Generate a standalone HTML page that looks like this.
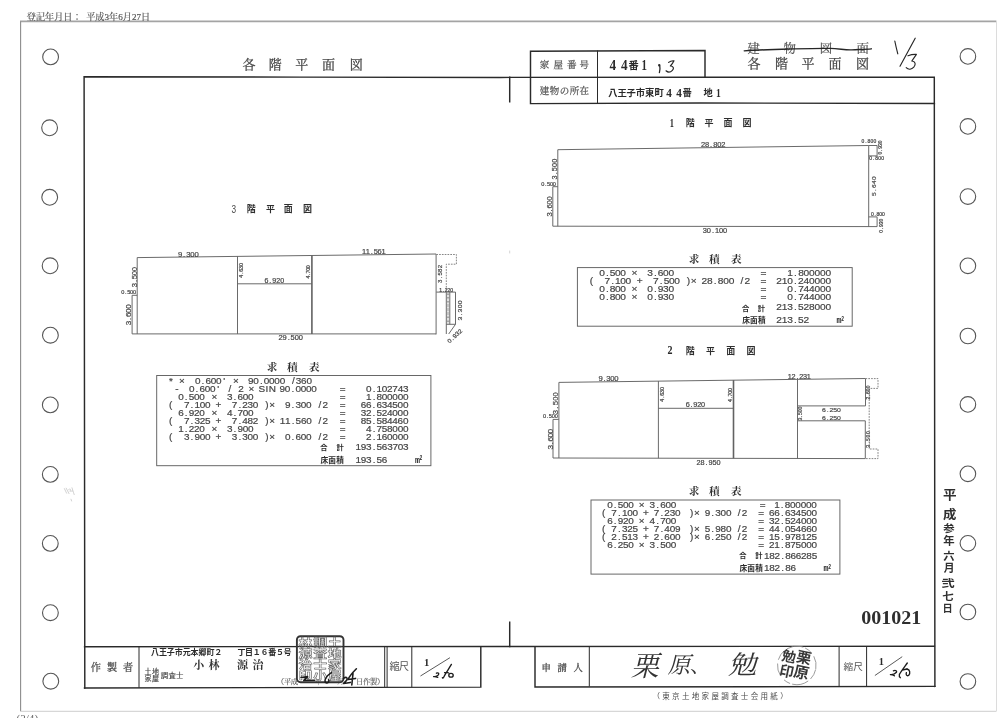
<!DOCTYPE html>
<html lang="ja"><head><meta charset="utf-8"><title>各階平面図</title>
<style>html,body{margin:0;padding:0;background:#fff}body{width:1000px;height:718px;overflow:hidden;font-family:"Liberation Sans",sans-serif}svg{display:block;filter:blur(0.32px)}</style>
</head><body>
<svg width="1000" height="718" viewBox="0 0 1000 718">
<line x1="20" y1="21.4" x2="996.4" y2="21.4" stroke="#a4a4a4" stroke-width="1.6"/>
<line x1="20.6" y1="21.6" x2="20.6" y2="711.2" stroke="#8c8c8c" stroke-width="1.1"/>
<line x1="20.4" y1="711.3" x2="996.4" y2="711.3" stroke="#cdcdcd" stroke-width="1.0"/>
<line x1="996.5" y1="21.6" x2="996.5" y2="711.3" stroke="#dcdcdc" stroke-width="1.0"/>
<text xml:space="preserve" x="26.8 35.94 45.08 54.22 63.36 72.5 81.64 86.21 95.36 104.5 109.07 118.21 122.78 131.92 136.49 141.06" y="19.5" font-family="'Liberation Serif','Noto Serif CJK SC','Noto Sans CJK JP',serif" font-size="9.1" fill="#555" stroke="#555" stroke-width="0.2">登記年月日： 平成3年6月27日</text>
<text x="16.6" y="722.3" font-family="'Liberation Serif', serif" font-size="10" fill="#666" text-anchor="start" textLength="21.50" lengthAdjust="spacingAndGlyphs" xml:space="preserve">(2/4)</text>
<line x1="509.7" y1="250.6" x2="509.7" y2="253.4" stroke="#c8c8c8" stroke-width="0.8"/>
<g fill="none" stroke="#555" stroke-width="1.1">
<circle cx="50.6" cy="56.9" r="7.9"/>
<circle cx="49.6" cy="127.8" r="7.9"/>
<circle cx="49.7" cy="197.3" r="7.9"/>
<circle cx="50.1" cy="265.8" r="7.9"/>
<circle cx="50.4" cy="335.2" r="7.9"/>
<circle cx="50.3" cy="404.9" r="7.9"/>
<circle cx="50.3" cy="474.4" r="7.9"/>
<circle cx="50.3" cy="543.4" r="7.9"/>
<circle cx="50.4" cy="612.7" r="7.9"/>
<circle cx="50.8" cy="681.2" r="7.9"/>
<circle cx="967.9" cy="56.4" r="7.8"/>
<circle cx="967.9" cy="126.4" r="7.8"/>
<circle cx="967.9" cy="196.6" r="7.8"/>
<circle cx="967.9" cy="265.8" r="7.8"/>
<circle cx="967.9" cy="336.0" r="7.8"/>
<circle cx="967.9" cy="404.4" r="7.8"/>
<circle cx="967.9" cy="473.8" r="7.8"/>
<circle cx="967.9" cy="543.3" r="7.8"/>
<circle cx="967.9" cy="612.0" r="7.8"/>
<circle cx="967.9" cy="681.5" r="7.8"/>
</g>
<g stroke="#2a2a2a" stroke-width="1.45" fill="none" stroke-linecap="square">
<path d="M84.8 688.0L84.1 76.8L300 77.1L500 77.4L705 77.2L934.3 77.3L934.9 686.4"/>
<path d="M84.6 646.7L500 646.5L934.4 646.3"/>
<path d="M84.5 688.0L480.8 687.1V646.6"/>
<path d="M535 646.6V687.0L934.9 686.4"/>
<path d="M509.7 77.3V101.8M509.7 622.3V646.6"/>
<path d="M705 77.2V50.6L530.5 51.3V103.6L700 103.0L934.4 103.4"/>
</g>
<g stroke="#2a2a2a" stroke-width="1.0" fill="none">
<path d="M597.5 50.5V103.6"/>
<path d="M139 646.6V687.8M384.7 646.6V687.3M387.1 646.6V687.3M411.8 646.6V687.2"/>
<path d="M589.3 646.6V686.5M839.1 646.6V686.5M866.6 646.6V686.5"/>
</g>
<text x="242.6 268.8 295.2 321.9 349.8" y="68.8" font-family="'Liberation Serif','Noto Serif CJK SC','Noto Sans CJK JP',serif" font-size="13" fill="#444" stroke="#444" stroke-width="0.25">各階平面図</text>
<text x="747.5 774.9 801.5 828.5 855.9" y="68.3" font-family="'Liberation Serif','Noto Serif CJK SC','Noto Sans CJK JP',serif" font-size="13" fill="#444" stroke="#444" stroke-width="0.25">各階平面図</text>
<text x="747.4 783.6 819.7 856.6" y="52.8" font-family="'Liberation Serif','Noto Serif CJK SC','Noto Sans CJK JP',serif" font-size="12.4" fill="#555" stroke="#555" stroke-width="0.2">建物図面</text>
<text x="539.8 553.6 567.0 579.6" y="67.8" font-family="'Liberation Serif','Noto Serif CJK SC','Noto Sans CJK JP',serif" font-size="9.5" fill="#555" stroke="#555" stroke-width="0.25">家屋番号</text>
<text x="539.8 549.75 559.7 569.65 579.6" y="94.2" font-family="'Liberation Serif','Noto Serif CJK SC','Noto Sans CJK JP',serif" font-size="9.5" fill="#555" stroke="#555" stroke-width="0.25">建物の所在</text>
<text x="90.8 106.9 122.9" y="671.2" font-family="'Liberation Serif','Noto Serif CJK SC','Noto Sans CJK JP',serif" font-size="10.2" fill="#4a4a4a" stroke="#4a4a4a" stroke-width="0.25">作製者</text>
<text x="541.6 557.6 573.6" y="670.5" font-family="'Liberation Serif','Noto Serif CJK SC','Noto Sans CJK JP',serif" font-size="9.4" fill="#444" stroke="#444" stroke-width="0.25">申請人</text>
<text x="389.6 399.1" y="669.8" font-family="'Liberation Sans','Noto Sans CJK JP',sans-serif" font-size="10" fill="#555">縮尺</text>
<text x="843.6 853.2" y="670.4" font-family="'Liberation Sans','Noto Sans CJK JP',sans-serif" font-size="9.6" fill="#555">縮尺</text>
<text x="193.2 208.4" y="668.7" font-family="'Liberation Serif','Noto Serif CJK SC','Noto Sans CJK JP',serif" font-size="11" font-weight="bold" fill="#333">小林</text>
<text x="237.0 252.6" y="668.7" font-family="'Liberation Serif','Noto Serif CJK SC','Noto Sans CJK JP',serif" font-size="11" font-weight="bold" fill="#333">源治</text>
<text x="609.6" y="70.0" font-family="'Liberation Serif', serif" font-size="13.6" font-weight="bold" fill="#2a2a2a" text-anchor="start" textLength="6.60" lengthAdjust="spacingAndGlyphs" xml:space="preserve">4</text>
<text x="621.0" y="70.0" font-family="'Liberation Serif', serif" font-size="13.6" font-weight="bold" fill="#2a2a2a" text-anchor="start" textLength="6.60" lengthAdjust="spacingAndGlyphs" xml:space="preserve">4</text>
<text x="628.6" y="69.0" font-family="'Liberation Sans','Noto Sans CJK JP',sans-serif" font-size="10.2" font-weight="bold" fill="#2a2a2a">番</text>
<text x="641.6" y="70.0" font-family="'Liberation Serif', serif" font-size="13.6" font-weight="bold" fill="#2a2a2a" text-anchor="start" textLength="5.40" lengthAdjust="spacingAndGlyphs" xml:space="preserve">1</text>
<text x="608.3 617.6 626.6 635.8 645.1 654.4" y="96.2" font-family="'Liberation Sans','Noto Sans CJK JP',sans-serif" font-size="9.3" font-weight="bold" fill="#2a2a2a">八王子市東町</text>
<text x="666.2" y="97.0" font-family="'Liberation Serif', serif" font-size="11.6" font-weight="bold" fill="#2a2a2a" text-anchor="start" textLength="5.60" lengthAdjust="spacingAndGlyphs" xml:space="preserve">4</text>
<text x="676.2" y="97.0" font-family="'Liberation Serif', serif" font-size="11.6" font-weight="bold" fill="#2a2a2a" text-anchor="start" textLength="5.60" lengthAdjust="spacingAndGlyphs" xml:space="preserve">4</text>
<text x="682.6" y="96.2" font-family="'Liberation Sans','Noto Sans CJK JP',sans-serif" font-size="9.3" font-weight="bold" fill="#2a2a2a">番</text>
<text x="703.6" y="96.2" font-family="'Liberation Sans','Noto Sans CJK JP',sans-serif" font-size="9.3" font-weight="bold" fill="#2a2a2a">地</text>
<text x="716.0" y="97.0" font-family="'Liberation Serif', serif" font-size="11.6" font-weight="bold" fill="#2a2a2a" text-anchor="start" textLength="4.80" lengthAdjust="spacingAndGlyphs" xml:space="preserve">1</text>
<text x="231.4" y="212.85000000000002" font-family="'Liberation Sans', sans-serif" font-size="11.6" fill="#4a4a4a" text-anchor="start" textLength="4.60" lengthAdjust="spacingAndGlyphs" xml:space="preserve">3</text>
<text x="246.8 266.0 283.8 302.9" y="212.1" font-family="'Liberation Sans','Noto Sans CJK JP',sans-serif" font-size="9" font-weight="bold" fill="#2e2e2e">階平面図</text>
<text x="669.8" y="126.55" font-family="'Liberation Serif', serif" font-size="12.0" font-weight="bold" fill="#2a2a2a" text-anchor="start" textLength="4.20" lengthAdjust="spacingAndGlyphs" xml:space="preserve">1</text>
<text x="685.8 704.6 723.6 742.4" y="125.8" font-family="'Liberation Sans','Noto Sans CJK JP',sans-serif" font-size="9" font-weight="bold" fill="#2e2e2e">階平面図</text>
<text x="667.6" y="354.35" font-family="'Liberation Serif', serif" font-size="12.0" font-weight="bold" fill="#2a2a2a" text-anchor="start" textLength="5.00" lengthAdjust="spacingAndGlyphs" xml:space="preserve">2</text>
<text x="685.8 705.9 726.3 746.6" y="353.6" font-family="'Liberation Sans','Noto Sans CJK JP',sans-serif" font-size="9" font-weight="bold" fill="#2e2e2e">階平面図</text>
<g stroke="#626262" stroke-width="0.95" fill="none">
<path d="M137.2 333.9V257.6L436.1 254.0V334.4"/>
<path d="M132.1 295.3H137.2M132.1 295.3V333.9H436.1"/>
<path d="M237.5 256.4V333.9"/>
<path d="M311.9 255.5V333.9" stroke-width="1.6"/>
<path d="M237.5 283.8H311.9"/>
<path d="M436.3 292.1H455.5V324.3H446.3M446.3 292.1V334M449.8 292.1V324.3"/>
<path d="M455.5 324.3L448.7 334"/>
<path d="M436.3 254.5H456.4V264.2H446.3V292.1" stroke="#808080" stroke-dasharray="1.7 1.1"/>
<path d="M448.05 293V324" stroke-width="3.0" stroke="#8a8a8a" stroke-dasharray="0.6 0.75"/>
</g>
<g transform="translate(178.0 256.5)"><text transform="scale(1.12 1)" x="1.84 5.52 9.20 12.87 16.55" y="0" font-family="'Liberation Sans', sans-serif" font-size="6.88" fill="#444" stroke="#4a4a4a" stroke-width="0.2" text-anchor="middle">9.300</text></g>
<g transform="translate(362.0 254.3)"><text transform="scale(1.12 1)" x="1.76 5.27 8.78 12.29 15.80 19.32" y="0" font-family="'Liberation Sans', sans-serif" font-size="6.70" fill="#444" stroke="#4a4a4a" stroke-width="0.2" text-anchor="middle">11.561</text></g>
<g transform="translate(264.4 283.1)"><text transform="scale(1.12 1)" x="1.77 5.30 8.84 12.38 15.91" y="0" font-family="'Liberation Sans', sans-serif" font-size="6.32" fill="#444" stroke="#4a4a4a" stroke-width="0.2" text-anchor="middle">6.920</text></g>
<g transform="translate(278.6 339.9)"><text transform="scale(1.12 1)" x="1.80 5.40 9.00 12.60 16.21 19.81" y="0" font-family="'Liberation Sans', sans-serif" font-size="6.70" fill="#444" stroke="#4a4a4a" stroke-width="0.2" text-anchor="middle">29.500</text></g>
<g transform="translate(136.6 287.0) rotate(-90)"><text transform="scale(1.12 1)" x="1.79 5.36 8.93 12.50 16.07" y="0" font-family="'Liberation Sans', sans-serif" font-size="6.88" fill="#444" stroke="#4a4a4a" stroke-width="0.2" text-anchor="middle">3.500</text></g>
<g transform="translate(121.4 293.9)"><text transform="scale(1.12 1)" x="1.30 3.91 6.52 9.12 11.73" y="0" font-family="'Liberation Sans', sans-serif" font-size="5.02" fill="#444" stroke="#4a4a4a" stroke-width="0.2" text-anchor="middle">0.500</text></g>
<g transform="translate(131.2 325.2) rotate(-90)"><text transform="scale(1.12 1)" x="1.86 5.57 9.29 13.00 16.71" y="0" font-family="'Liberation Sans', sans-serif" font-size="7.25" fill="#444" stroke="#4a4a4a" stroke-width="0.2" text-anchor="middle">3.600</text></g>
<g transform="translate(242.8 277.6) rotate(-90)"><text transform="scale(1.12 1)" x="1.30 3.91 6.52 9.13 11.73" y="0" font-family="'Liberation Sans', sans-serif" font-size="4.84" fill="#444" stroke="#4a4a4a" stroke-width="0.2" text-anchor="middle">4.630</text></g>
<g transform="translate(310.4 278.4) rotate(-90)"><text transform="scale(1.12 1)" x="1.16 3.48 5.80 8.12 10.45" y="0" font-family="'Liberation Sans', sans-serif" font-size="4.84" fill="#444" stroke="#4a4a4a" stroke-width="0.2" text-anchor="middle">4.700</text></g>
<g transform="translate(441.8 283.2) rotate(-90)"><text transform="scale(1.12 1)" x="1.66 4.98 8.30 11.62 14.95" y="0" font-family="'Liberation Sans', sans-serif" font-size="5.39" fill="#444" stroke="#4a4a4a" stroke-width="0.2" text-anchor="middle">3.582</text></g>
<g transform="translate(439.4 291.5)"><text transform="scale(1.12 1)" x="1.21 3.64 6.07 8.50 10.93" y="0" font-family="'Liberation Sans', sans-serif" font-size="4.65" fill="#444" stroke="#4a4a4a" stroke-width="0.2" text-anchor="middle">1.220</text></g>
<g transform="translate(461.8 320.6) rotate(-90)"><text transform="scale(1.12 1)" x="1.80 5.41 9.02 12.63 16.23" y="0" font-family="'Liberation Sans', sans-serif" font-size="6.14" fill="#444" stroke="#4a4a4a" stroke-width="0.2" text-anchor="middle">3.300</text></g>
<g transform="translate(449.4 343.4) rotate(-42)"><text transform="scale(1.12 1)" x="1.59 4.77 7.95 11.12 14.30" y="0" font-family="'Liberation Sans', sans-serif" font-size="5.77" fill="#444" stroke="#4a4a4a" stroke-width="0.2" text-anchor="middle">0.932</text></g>
<g stroke="#626262" stroke-width="0.95" fill="none">
<path d="M557.8 226.2V149.7L868.7 145.5V226.6"/>
<path d="M552.8 186.7H557.8M552.8 186.7V226.2L877.1 226.6"/>
<path d="M868.7 145.5H877.1V155.9H868.7"/>
<path d="M868.7 216.9H877.1V226.6"/>
</g>
<g transform="translate(701.0 146.9)"><text transform="scale(1.12 1)" x="1.82 5.45 9.08 12.71 16.34 19.97" y="0" font-family="'Liberation Sans', sans-serif" font-size="6.70" fill="#444" stroke="#4a4a4a" stroke-width="0.2" text-anchor="middle">28.802</text></g>
<g transform="translate(702.8 232.9)"><text transform="scale(1.12 1)" x="1.82 5.45 9.08 12.71 16.34 19.97" y="0" font-family="'Liberation Sans', sans-serif" font-size="6.70" fill="#444" stroke="#4a4a4a" stroke-width="0.2" text-anchor="middle">30.100</text></g>
<g transform="translate(556.8 179.6) rotate(-90)"><text transform="scale(1.12 1)" x="1.88 5.62 9.37 13.12 16.88" y="0" font-family="'Liberation Sans', sans-serif" font-size="6.51" fill="#444" stroke="#4a4a4a" stroke-width="0.2" text-anchor="middle">3.500</text></g>
<g transform="translate(541.4 186.2)"><text transform="scale(1.12 1)" x="1.29 3.86 6.43 9.00 11.57" y="0" font-family="'Liberation Sans', sans-serif" font-size="5.02" fill="#444" stroke="#4a4a4a" stroke-width="0.2" text-anchor="middle">0.500</text></g>
<g transform="translate(551.8 216.4) rotate(-90)"><text transform="scale(1.12 1)" x="1.80 5.41 9.02 12.63 16.23" y="0" font-family="'Liberation Sans', sans-serif" font-size="6.88" fill="#444" stroke="#4a4a4a" stroke-width="0.2" text-anchor="middle">3.600</text></g>
<g transform="translate(875.6 196.2) rotate(-90)"><text transform="scale(1.12 1)" x="1.80 5.41 9.02 12.62 16.23" y="0" font-family="'Liberation Sans', sans-serif" font-size="5.95" fill="#444" stroke="#4a4a4a" stroke-width="0.2" text-anchor="middle">5.640</text></g>
<g transform="translate(861.4 143.4)"><text transform="scale(1.12 1)" x="1.34 4.02 6.70 9.37 12.05" y="0" font-family="'Liberation Sans', sans-serif" font-size="4.46" fill="#444" stroke="#4a4a4a" stroke-width="0.2" text-anchor="middle">0.800</text></g>
<g transform="translate(882.0 154.4) rotate(-90)"><text transform="scale(1.12 1)" x="1.25 3.75 6.25 8.75 11.25" y="0" font-family="'Liberation Sans', sans-serif" font-size="4.46" fill="#444" stroke="#4a4a4a" stroke-width="0.2" text-anchor="middle">0.930</text></g>
<g transform="translate(869.2 160.4)"><text transform="scale(1.12 1)" x="1.34 4.02 6.70 9.37 12.05" y="0" font-family="'Liberation Sans', sans-serif" font-size="4.46" fill="#444" stroke="#4a4a4a" stroke-width="0.2" text-anchor="middle">0.800</text></g>
<g transform="translate(871.0 216.0)"><text transform="scale(1.12 1)" x="1.23 3.70 6.16 8.62 11.09" y="0" font-family="'Liberation Sans', sans-serif" font-size="4.46" fill="#444" stroke="#4a4a4a" stroke-width="0.2" text-anchor="middle">0.800</text></g>
<g transform="translate(882.8 232.8) rotate(-90)"><text transform="scale(1.12 1)" x="1.27 3.80 6.34 8.88 11.41" y="0" font-family="'Liberation Sans', sans-serif" font-size="4.46" fill="#444" stroke="#4a4a4a" stroke-width="0.2" text-anchor="middle">0.930</text></g>
<g stroke="#626262" stroke-width="0.95" fill="none">
<path d="M558.9 458.0V382.4L865.5 378.5V405.9H797.5"/>
<path d="M553 419.4H558.9M553 419.4V458.0L865.3 458.6V420.8H797.5"/>
<path d="M658.4 381.1V458.2"/>
<path d="M733.5 380.1V458.3" stroke-width="1.6"/>
<path d="M658.4 408.3H733.5"/>
<path d="M797.5 379.3V458.5"/>
<path d="M865.5 378.6H878V388.4H869.2V449H878V458.6H865.3" stroke="#808080" stroke-dasharray="1.7 1.1"/>
</g>
<g transform="translate(598.6 381.1)"><text transform="scale(1.12 1)" x="1.76 5.28 8.79 12.31 15.83" y="0" font-family="'Liberation Sans', sans-serif" font-size="6.88" fill="#444" stroke="#4a4a4a" stroke-width="0.2" text-anchor="middle">9.300</text></g>
<g transform="translate(788.0 378.9)"><text transform="scale(1.12 1)" x="1.68 5.04 8.41 11.77 15.13 18.50" y="0" font-family="'Liberation Sans', sans-serif" font-size="6.51" fill="#444" stroke="#4a4a4a" stroke-width="0.2" text-anchor="middle">12.231</text></g>
<g transform="translate(686.0 406.9)"><text transform="scale(1.12 1)" x="1.68 5.04 8.39 11.75 15.11" y="0" font-family="'Liberation Sans', sans-serif" font-size="6.51" fill="#444" stroke="#4a4a4a" stroke-width="0.2" text-anchor="middle">6.920</text></g>
<g transform="translate(822.0 412.3)"><text transform="scale(1.12 1)" x="1.68 5.04 8.39 11.75 15.11" y="0" font-family="'Liberation Sans', sans-serif" font-size="6.14" fill="#444" stroke="#4a4a4a" stroke-width="0.2" text-anchor="middle">6.250</text></g>
<g transform="translate(822.0 420.0)"><text transform="scale(1.12 1)" x="1.68 5.04 8.39 11.75 15.11" y="0" font-family="'Liberation Sans', sans-serif" font-size="6.14" fill="#444" stroke="#4a4a4a" stroke-width="0.2" text-anchor="middle">6.250</text></g>
<g transform="translate(696.4 464.7)"><text transform="scale(1.12 1)" x="1.80 5.40 9.00 12.60 16.21 19.81" y="0" font-family="'Liberation Sans', sans-serif" font-size="6.51" fill="#444" stroke="#4a4a4a" stroke-width="0.2" text-anchor="middle">28.950</text></g>
<g transform="translate(557.8 414.4) rotate(-90)"><text transform="scale(1.12 1)" x="2.00 6.00 10.00 14.00 18.00" y="0" font-family="'Liberation Sans', sans-serif" font-size="6.88" fill="#444" stroke="#4a4a4a" stroke-width="0.2" text-anchor="middle">3.500</text></g>
<g transform="translate(543.0 418.2)"><text transform="scale(1.12 1)" x="1.32 3.96 6.61 9.25 11.89" y="0" font-family="'Liberation Sans', sans-serif" font-size="5.02" fill="#444" stroke="#4a4a4a" stroke-width="0.2" text-anchor="middle">0.500</text></g>
<g transform="translate(553.0 449.2) rotate(-90)"><text transform="scale(1.12 1)" x="1.78 5.33 8.88 12.44 15.99" y="0" font-family="'Liberation Sans', sans-serif" font-size="7.44" fill="#444" stroke="#4a4a4a" stroke-width="0.2" text-anchor="middle">3.600</text></g>
<g transform="translate(663.8 401.6) rotate(-90)"><text transform="scale(1.12 1)" x="1.30 3.91 6.52 9.13 11.73" y="0" font-family="'Liberation Sans', sans-serif" font-size="4.84" fill="#444" stroke="#4a4a4a" stroke-width="0.2" text-anchor="middle">4.630</text></g>
<g transform="translate(732.0 402.0) rotate(-90)"><text transform="scale(1.12 1)" x="1.25 3.75 6.25 8.75 11.25" y="0" font-family="'Liberation Sans', sans-serif" font-size="4.84" fill="#444" stroke="#4a4a4a" stroke-width="0.2" text-anchor="middle">4.700</text></g>
<g transform="translate(802.2 420.4) rotate(-90)"><text transform="scale(1.12 1)" x="1.21 3.64 6.07 8.50 10.93" y="0" font-family="'Liberation Sans', sans-serif" font-size="4.65" fill="#444" stroke="#4a4a4a" stroke-width="0.2" text-anchor="middle">3.500</text></g>
<g transform="translate(869.6 399.4) rotate(-90)"><text transform="scale(1.12 1)" x="1.23 3.70 6.16 8.62 11.09" y="0" font-family="'Liberation Sans', sans-serif" font-size="4.46" fill="#444" stroke="#4a4a4a" stroke-width="0.2" text-anchor="middle">2.600</text></g>
<g transform="translate(869.6 448.2) rotate(-90)"><text transform="scale(1.12 1)" x="1.54 4.61 7.68 10.75 13.82" y="0" font-family="'Liberation Sans', sans-serif" font-size="4.46" fill="#444" stroke="#4a4a4a" stroke-width="0.2" text-anchor="middle">3.500</text></g>
<text x="266.7 286.9 308.9" y="370.9" font-family="'Liberation Serif','Noto Serif CJK SC','Noto Sans CJK JP',serif" font-size="10.7" font-weight="bold" fill="#303030">求積表</text>
<rect x="156.7" y="375.5" width="274.20" height="90.20" fill="none" stroke="#606060" stroke-width="0.95"/>
<text transform="scale(1.17 1)" x="146.10" y="383.84" font-family="'Liberation Sans', sans-serif" font-size="8.5" fill="#444" stroke="#444" stroke-width="0.18" text-anchor="middle" xml:space="preserve">*</text>
<text transform="scale(1.17 1)" x="155.50" y="383.84" font-family="'Liberation Sans', sans-serif" font-size="8.5" fill="#444" stroke="#444" stroke-width="0.18" text-anchor="middle" xml:space="preserve">×</text>
<text transform="scale(1.17 1)" x="169.01 173.52 178.03 182.55 187.06 191.57" y="383.84" font-family="'Liberation Sans', sans-serif" font-size="8.5" fill="#444" stroke="#444" stroke-width="0.18" text-anchor="middle" xml:space="preserve">0.600'</text>
<text transform="scale(1.17 1)" x="201.66" y="383.84" font-family="'Liberation Sans', sans-serif" font-size="8.5" fill="#444" stroke="#444" stroke-width="0.18" text-anchor="middle" xml:space="preserve">×</text>
<text transform="scale(1.17 1)" x="214.31 218.82 223.33 227.85 232.36 236.87 241.38" y="383.84" font-family="'Liberation Sans', sans-serif" font-size="8.5" fill="#444" stroke="#444" stroke-width="0.18" text-anchor="middle" xml:space="preserve">90.0000</text>
<text transform="scale(1.17 1)" x="250.72 255.23 259.74 264.26" y="383.84" font-family="'Liberation Sans', sans-serif" font-size="8.5" fill="#444" stroke="#444" stroke-width="0.18" text-anchor="middle" xml:space="preserve">/360</text>
<text transform="scale(1.17 1)" x="151.23" y="391.84" font-family="'Liberation Sans', sans-serif" font-size="8.5" fill="#444" stroke="#444" stroke-width="0.18" text-anchor="middle" xml:space="preserve">-</text>
<text transform="scale(1.17 1)" x="163.88 168.39 172.91 177.42 181.93 186.44" y="391.84" font-family="'Liberation Sans', sans-serif" font-size="8.5" fill="#444" stroke="#444" stroke-width="0.18" text-anchor="middle" xml:space="preserve">0.600'</text>
<text transform="scale(1.17 1)" x="196.53" y="391.84" font-family="'Liberation Sans', sans-serif" font-size="8.5" fill="#444" stroke="#444" stroke-width="0.18" text-anchor="middle" xml:space="preserve">/</text>
<text transform="scale(1.17 1)" x="205.93" y="391.84" font-family="'Liberation Sans', sans-serif" font-size="8.5" fill="#444" stroke="#444" stroke-width="0.18" text-anchor="middle" xml:space="preserve">2</text>
<text transform="scale(1.17 1)" x="214.82" y="391.84" font-family="'Liberation Sans', sans-serif" font-size="8.5" fill="#444" stroke="#444" stroke-width="0.18" text-anchor="middle" xml:space="preserve">×</text>
<text transform="scale(1.17 1)" x="223.71 228.22 232.74" y="391.84" font-family="'Liberation Sans', sans-serif" font-size="8.5" fill="#444" stroke="#444" stroke-width="0.18" text-anchor="middle" xml:space="preserve">SIN</text>
<text transform="scale(1.17 1)" x="241.32 245.83 250.34 254.85 259.37 263.88 268.39" y="391.84" font-family="'Liberation Sans', sans-serif" font-size="8.5" fill="#444" stroke="#444" stroke-width="0.18" text-anchor="middle" xml:space="preserve">90.0000</text>
<text transform="scale(1.17 1)" x="292.77" y="391.84" font-family="'Liberation Sans', sans-serif" font-size="8.5" fill="#444" stroke="#444" stroke-width="0.18" text-anchor="middle" xml:space="preserve">=</text>
<text transform="scale(1.17 1)" x="315.16 319.68 324.19 328.70 333.21 337.73 342.24 346.75" y="391.84" font-family="'Liberation Sans', sans-serif" font-size="8.5" fill="#444" stroke="#444" stroke-width="0.18" text-anchor="middle" xml:space="preserve">0.102743</text>
<text transform="scale(1.17 1)" x="154.65 159.16 163.68 168.19 172.70" y="399.94" font-family="'Liberation Sans', sans-serif" font-size="8.5" fill="#444" stroke="#444" stroke-width="0.18" text-anchor="middle" xml:space="preserve">0.500</text>
<text transform="scale(1.17 1)" x="183.20" y="399.94" font-family="'Liberation Sans', sans-serif" font-size="8.5" fill="#444" stroke="#444" stroke-width="0.18" text-anchor="middle" xml:space="preserve">×</text>
<text transform="scale(1.17 1)" x="196.36 200.87 205.38 209.90 214.41" y="399.94" font-family="'Liberation Sans', sans-serif" font-size="8.5" fill="#444" stroke="#444" stroke-width="0.18" text-anchor="middle" xml:space="preserve">3.600</text>
<text transform="scale(1.17 1)" x="292.77" y="399.94" font-family="'Liberation Sans', sans-serif" font-size="8.5" fill="#444" stroke="#444" stroke-width="0.18" text-anchor="middle" xml:space="preserve">=</text>
<text transform="scale(1.17 1)" x="315.16 319.68 324.19 328.70 333.21 337.73 342.24 346.75" y="399.94" font-family="'Liberation Sans', sans-serif" font-size="8.5" fill="#444" stroke="#444" stroke-width="0.18" text-anchor="middle" xml:space="preserve">1.800000</text>
<text transform="scale(1.17 1)" x="145.85" y="407.84" font-family="'Liberation Sans', sans-serif" font-size="8.5" fill="#444" stroke="#444" stroke-width="0.18" text-anchor="middle" xml:space="preserve">(</text>
<text transform="scale(1.17 1)" x="159.61 164.12 168.63 173.15 177.66" y="407.84" font-family="'Liberation Sans', sans-serif" font-size="8.5" fill="#444" stroke="#444" stroke-width="0.18" text-anchor="middle" xml:space="preserve">7.100</text>
<text transform="scale(1.17 1)" x="186.62" y="407.84" font-family="'Liberation Sans', sans-serif" font-size="8.5" fill="#444" stroke="#444" stroke-width="0.18" text-anchor="middle" xml:space="preserve">+</text>
<text transform="scale(1.17 1)" x="200.46 204.97 209.49 214.00 218.51" y="407.84" font-family="'Liberation Sans', sans-serif" font-size="8.5" fill="#444" stroke="#444" stroke-width="0.18" text-anchor="middle" xml:space="preserve">7.230</text>
<text transform="scale(1.17 1)" x="228.15 232.67" y="407.84" font-family="'Liberation Sans', sans-serif" font-size="8.5" fill="#444" stroke="#444" stroke-width="0.18" text-anchor="middle" xml:space="preserve">)×</text>
<text transform="scale(1.17 1)" x="245.93 250.44 254.96 259.47 263.98" y="407.84" font-family="'Liberation Sans', sans-serif" font-size="8.5" fill="#444" stroke="#444" stroke-width="0.18" text-anchor="middle" xml:space="preserve">9.300</text>
<text transform="scale(1.17 1)" x="273.45 277.97" y="407.84" font-family="'Liberation Sans', sans-serif" font-size="8.5" fill="#444" stroke="#444" stroke-width="0.18" text-anchor="middle" xml:space="preserve">/2</text>
<text transform="scale(1.17 1)" x="292.77" y="407.84" font-family="'Liberation Sans', sans-serif" font-size="8.5" fill="#444" stroke="#444" stroke-width="0.18" text-anchor="middle" xml:space="preserve">=</text>
<text transform="scale(1.17 1)" x="310.63 315.15 319.66 324.17 328.68 333.20 337.71 342.22 346.74" y="407.84" font-family="'Liberation Sans', sans-serif" font-size="8.5" fill="#444" stroke="#444" stroke-width="0.18" text-anchor="middle" xml:space="preserve">66.634500</text>
<text transform="scale(1.17 1)" x="154.65 159.16 163.68 168.19 172.70" y="415.94" font-family="'Liberation Sans', sans-serif" font-size="8.5" fill="#444" stroke="#444" stroke-width="0.18" text-anchor="middle" xml:space="preserve">6.920</text>
<text transform="scale(1.17 1)" x="183.20" y="415.94" font-family="'Liberation Sans', sans-serif" font-size="8.5" fill="#444" stroke="#444" stroke-width="0.18" text-anchor="middle" xml:space="preserve">×</text>
<text transform="scale(1.17 1)" x="196.36 200.87 205.38 209.90 214.41" y="415.94" font-family="'Liberation Sans', sans-serif" font-size="8.5" fill="#444" stroke="#444" stroke-width="0.18" text-anchor="middle" xml:space="preserve">4.700</text>
<text transform="scale(1.17 1)" x="292.77" y="415.94" font-family="'Liberation Sans', sans-serif" font-size="8.5" fill="#444" stroke="#444" stroke-width="0.18" text-anchor="middle" xml:space="preserve">=</text>
<text transform="scale(1.17 1)" x="310.63 315.15 319.66 324.17 328.68 333.20 337.71 342.22 346.74" y="415.94" font-family="'Liberation Sans', sans-serif" font-size="8.5" fill="#444" stroke="#444" stroke-width="0.18" text-anchor="middle" xml:space="preserve">32.524000</text>
<text transform="scale(1.17 1)" x="145.85" y="423.94" font-family="'Liberation Sans', sans-serif" font-size="8.5" fill="#444" stroke="#444" stroke-width="0.18" text-anchor="middle" xml:space="preserve">(</text>
<text transform="scale(1.17 1)" x="159.61 164.12 168.63 173.15 177.66" y="423.94" font-family="'Liberation Sans', sans-serif" font-size="8.5" fill="#444" stroke="#444" stroke-width="0.18" text-anchor="middle" xml:space="preserve">7.325</text>
<text transform="scale(1.17 1)" x="186.62" y="423.94" font-family="'Liberation Sans', sans-serif" font-size="8.5" fill="#444" stroke="#444" stroke-width="0.18" text-anchor="middle" xml:space="preserve">+</text>
<text transform="scale(1.17 1)" x="200.46 204.97 209.49 214.00 218.51" y="423.94" font-family="'Liberation Sans', sans-serif" font-size="8.5" fill="#444" stroke="#444" stroke-width="0.18" text-anchor="middle" xml:space="preserve">7.482</text>
<text transform="scale(1.17 1)" x="228.15 232.67" y="423.94" font-family="'Liberation Sans', sans-serif" font-size="8.5" fill="#444" stroke="#444" stroke-width="0.18" text-anchor="middle" xml:space="preserve">)×</text>
<text transform="scale(1.17 1)" x="241.49 246.00 250.51 255.03 259.54 264.05" y="423.94" font-family="'Liberation Sans', sans-serif" font-size="8.5" fill="#444" stroke="#444" stroke-width="0.18" text-anchor="middle" xml:space="preserve">11.560</text>
<text transform="scale(1.17 1)" x="273.45 277.97" y="423.94" font-family="'Liberation Sans', sans-serif" font-size="8.5" fill="#444" stroke="#444" stroke-width="0.18" text-anchor="middle" xml:space="preserve">/2</text>
<text transform="scale(1.17 1)" x="292.77" y="423.94" font-family="'Liberation Sans', sans-serif" font-size="8.5" fill="#444" stroke="#444" stroke-width="0.18" text-anchor="middle" xml:space="preserve">=</text>
<text transform="scale(1.17 1)" x="310.63 315.15 319.66 324.17 328.68 333.20 337.71 342.22 346.74" y="423.94" font-family="'Liberation Sans', sans-serif" font-size="8.5" fill="#444" stroke="#444" stroke-width="0.18" text-anchor="middle" xml:space="preserve">85.584460</text>
<text transform="scale(1.17 1)" x="154.65 159.16 163.68 168.19 172.70" y="431.84" font-family="'Liberation Sans', sans-serif" font-size="8.5" fill="#444" stroke="#444" stroke-width="0.18" text-anchor="middle" xml:space="preserve">1.220</text>
<text transform="scale(1.17 1)" x="183.20" y="431.84" font-family="'Liberation Sans', sans-serif" font-size="8.5" fill="#444" stroke="#444" stroke-width="0.18" text-anchor="middle" xml:space="preserve">×</text>
<text transform="scale(1.17 1)" x="196.36 200.87 205.38 209.90 214.41" y="431.84" font-family="'Liberation Sans', sans-serif" font-size="8.5" fill="#444" stroke="#444" stroke-width="0.18" text-anchor="middle" xml:space="preserve">3.900</text>
<text transform="scale(1.17 1)" x="292.77" y="431.84" font-family="'Liberation Sans', sans-serif" font-size="8.5" fill="#444" stroke="#444" stroke-width="0.18" text-anchor="middle" xml:space="preserve">=</text>
<text transform="scale(1.17 1)" x="315.16 319.68 324.19 328.70 333.21 337.73 342.24 346.75" y="431.84" font-family="'Liberation Sans', sans-serif" font-size="8.5" fill="#444" stroke="#444" stroke-width="0.18" text-anchor="middle" xml:space="preserve">4.758000</text>
<text transform="scale(1.17 1)" x="145.85" y="439.84" font-family="'Liberation Sans', sans-serif" font-size="8.5" fill="#444" stroke="#444" stroke-width="0.18" text-anchor="middle" xml:space="preserve">(</text>
<text transform="scale(1.17 1)" x="159.61 164.12 168.63 173.15 177.66" y="439.84" font-family="'Liberation Sans', sans-serif" font-size="8.5" fill="#444" stroke="#444" stroke-width="0.18" text-anchor="middle" xml:space="preserve">3.900</text>
<text transform="scale(1.17 1)" x="186.62" y="439.84" font-family="'Liberation Sans', sans-serif" font-size="8.5" fill="#444" stroke="#444" stroke-width="0.18" text-anchor="middle" xml:space="preserve">+</text>
<text transform="scale(1.17 1)" x="200.46 204.97 209.49 214.00 218.51" y="439.84" font-family="'Liberation Sans', sans-serif" font-size="8.5" fill="#444" stroke="#444" stroke-width="0.18" text-anchor="middle" xml:space="preserve">3.300</text>
<text transform="scale(1.17 1)" x="228.15 232.67" y="439.84" font-family="'Liberation Sans', sans-serif" font-size="8.5" fill="#444" stroke="#444" stroke-width="0.18" text-anchor="middle" xml:space="preserve">)×</text>
<text transform="scale(1.17 1)" x="245.93 250.44 254.96 259.47 263.98" y="439.84" font-family="'Liberation Sans', sans-serif" font-size="8.5" fill="#444" stroke="#444" stroke-width="0.18" text-anchor="middle" xml:space="preserve">0.600</text>
<text transform="scale(1.17 1)" x="273.45 277.97" y="439.84" font-family="'Liberation Sans', sans-serif" font-size="8.5" fill="#444" stroke="#444" stroke-width="0.18" text-anchor="middle" xml:space="preserve">/2</text>
<text transform="scale(1.17 1)" x="292.77" y="439.84" font-family="'Liberation Sans', sans-serif" font-size="8.5" fill="#444" stroke="#444" stroke-width="0.18" text-anchor="middle" xml:space="preserve">=</text>
<text transform="scale(1.17 1)" x="315.16 319.68 324.19 328.70 333.21 337.73 342.24 346.75" y="439.84" font-family="'Liberation Sans', sans-serif" font-size="8.5" fill="#444" stroke="#444" stroke-width="0.18" text-anchor="middle" xml:space="preserve">2.160000</text>
<text transform="scale(1.17 1)" x="306.19 310.70 315.21 319.73 324.24 328.75 333.26 337.78 342.29 346.80" y="450.34" font-family="'Liberation Sans', sans-serif" font-size="8.5" fill="#444" stroke="#444" stroke-width="0.18" text-anchor="middle" xml:space="preserve">193.563703</text>
<text transform="scale(1.17 1)" x="306.19 310.70 315.21 319.73 324.24 328.75" y="462.64" font-family="'Liberation Sans', sans-serif" font-size="8.5" fill="#444" stroke="#444" stroke-width="0.18" text-anchor="middle" xml:space="preserve">193.56</text>
<text x="320.3 336.4" y="450.2" font-family="'Liberation Sans','Noto Sans CJK JP',sans-serif" font-size="7.3" font-weight="bold" fill="#2c2c2c">合計</text>
<text x="320.5 328.35 336.2" y="462.7" font-family="'Liberation Sans','Noto Sans CJK JP',sans-serif" font-size="7.7" font-weight="bold" fill="#2c2c2c">床面積</text>
<text x="415.0" y="462.5" font-family="'Liberation Mono', monospace" font-size="8.8" font-weight="bold" fill="#2c2c2c" text-anchor="start" textLength="5.00" lengthAdjust="spacingAndGlyphs" xml:space="preserve">m</text>
<text x="419.6" y="460.4" font-family="'Liberation Mono', monospace" font-size="6.4" font-weight="bold" fill="#2c2c2c" text-anchor="start" textLength="2.80" lengthAdjust="spacingAndGlyphs" xml:space="preserve">2</text>
<text x="688.7 708.9 731.1" y="262.7" font-family="'Liberation Serif','Noto Serif CJK SC','Noto Sans CJK JP',serif" font-size="10.7" font-weight="bold" fill="#303030">求積表</text>
<rect x="577.4" y="267.6" width="274.80" height="58.60" fill="none" stroke="#606060" stroke-width="0.95"/>
<text transform="scale(1.17 1)" x="514.65 519.15 523.65 528.16 532.66" y="275.81" font-family="'Liberation Sans', sans-serif" font-size="8.7" fill="#444" stroke="#444" stroke-width="0.18" text-anchor="middle" xml:space="preserve">0.500</text>
<text transform="scale(1.17 1)" x="542.34" y="275.81" font-family="'Liberation Sans', sans-serif" font-size="8.7" fill="#444" stroke="#444" stroke-width="0.18" text-anchor="middle" xml:space="preserve">×</text>
<text transform="scale(1.17 1)" x="555.67 560.18 564.68 569.18 573.69" y="275.81" font-family="'Liberation Sans', sans-serif" font-size="8.7" fill="#444" stroke="#444" stroke-width="0.18" text-anchor="middle" xml:space="preserve">3.600</text>
<text transform="scale(1.17 1)" x="652.51" y="275.81" font-family="'Liberation Sans', sans-serif" font-size="8.7" fill="#444" stroke="#444" stroke-width="0.18" text-anchor="middle" xml:space="preserve">=</text>
<text transform="scale(1.17 1)" x="675.24 679.92 684.59 689.27 693.94 698.62 703.29 707.97" y="275.81" font-family="'Liberation Sans', sans-serif" font-size="8.7" fill="#444" stroke="#444" stroke-width="0.18" text-anchor="middle" xml:space="preserve">1.800000</text>
<text transform="scale(1.17 1)" x="505.41" y="284.01" font-family="'Liberation Sans', sans-serif" font-size="8.7" fill="#444" stroke="#444" stroke-width="0.18" text-anchor="middle" xml:space="preserve">(</text>
<text transform="scale(1.17 1)" x="519.09 523.59 528.10 532.60 537.11" y="284.01" font-family="'Liberation Sans', sans-serif" font-size="8.7" fill="#444" stroke="#444" stroke-width="0.18" text-anchor="middle" xml:space="preserve">7.100</text>
<text transform="scale(1.17 1)" x="546.78" y="284.01" font-family="'Liberation Sans', sans-serif" font-size="8.7" fill="#444" stroke="#444" stroke-width="0.18" text-anchor="middle" xml:space="preserve">+</text>
<text transform="scale(1.17 1)" x="560.63 565.13 569.64 574.14 578.65" y="284.01" font-family="'Liberation Sans', sans-serif" font-size="8.7" fill="#444" stroke="#444" stroke-width="0.18" text-anchor="middle" xml:space="preserve">7.500</text>
<text transform="scale(1.17 1)" x="588.49 593.00" y="284.01" font-family="'Liberation Sans', sans-serif" font-size="8.7" fill="#444" stroke="#444" stroke-width="0.18" text-anchor="middle" xml:space="preserve">)×</text>
<text transform="scale(1.17 1)" x="601.91 606.59 611.26 615.94 620.61 625.29" y="284.01" font-family="'Liberation Sans', sans-serif" font-size="8.7" fill="#444" stroke="#444" stroke-width="0.18" text-anchor="middle" xml:space="preserve">28.800</text>
<text transform="scale(1.17 1)" x="634.05 638.72" y="284.01" font-family="'Liberation Sans', sans-serif" font-size="8.7" fill="#444" stroke="#444" stroke-width="0.18" text-anchor="middle" xml:space="preserve">/2</text>
<text transform="scale(1.17 1)" x="652.51" y="284.01" font-family="'Liberation Sans', sans-serif" font-size="8.7" fill="#444" stroke="#444" stroke-width="0.18" text-anchor="middle" xml:space="preserve">=</text>
<text transform="scale(1.17 1)" x="665.84 670.52 675.19 679.87 684.54 689.22 693.89 698.57 703.24 707.92" y="284.01" font-family="'Liberation Sans', sans-serif" font-size="8.7" fill="#444" stroke="#444" stroke-width="0.18" text-anchor="middle" xml:space="preserve">210.240000</text>
<text transform="scale(1.17 1)" x="514.65 519.15 523.65 528.16 532.66" y="291.91" font-family="'Liberation Sans', sans-serif" font-size="8.7" fill="#444" stroke="#444" stroke-width="0.18" text-anchor="middle" xml:space="preserve">0.800</text>
<text transform="scale(1.17 1)" x="542.34" y="291.91" font-family="'Liberation Sans', sans-serif" font-size="8.7" fill="#444" stroke="#444" stroke-width="0.18" text-anchor="middle" xml:space="preserve">×</text>
<text transform="scale(1.17 1)" x="555.67 560.18 564.68 569.18 573.69" y="291.91" font-family="'Liberation Sans', sans-serif" font-size="8.7" fill="#444" stroke="#444" stroke-width="0.18" text-anchor="middle" xml:space="preserve">0.930</text>
<text transform="scale(1.17 1)" x="652.51" y="291.91" font-family="'Liberation Sans', sans-serif" font-size="8.7" fill="#444" stroke="#444" stroke-width="0.18" text-anchor="middle" xml:space="preserve">=</text>
<text transform="scale(1.17 1)" x="675.24 679.92 684.59 689.27 693.94 698.62 703.29 707.97" y="291.91" font-family="'Liberation Sans', sans-serif" font-size="8.7" fill="#444" stroke="#444" stroke-width="0.18" text-anchor="middle" xml:space="preserve">0.744000</text>
<text transform="scale(1.17 1)" x="514.65 519.15 523.65 528.16 532.66" y="300.01" font-family="'Liberation Sans', sans-serif" font-size="8.7" fill="#444" stroke="#444" stroke-width="0.18" text-anchor="middle" xml:space="preserve">0.800</text>
<text transform="scale(1.17 1)" x="542.34" y="300.01" font-family="'Liberation Sans', sans-serif" font-size="8.7" fill="#444" stroke="#444" stroke-width="0.18" text-anchor="middle" xml:space="preserve">×</text>
<text transform="scale(1.17 1)" x="555.67 560.18 564.68 569.18 573.69" y="300.01" font-family="'Liberation Sans', sans-serif" font-size="8.7" fill="#444" stroke="#444" stroke-width="0.18" text-anchor="middle" xml:space="preserve">0.930</text>
<text transform="scale(1.17 1)" x="652.51" y="300.01" font-family="'Liberation Sans', sans-serif" font-size="8.7" fill="#444" stroke="#444" stroke-width="0.18" text-anchor="middle" xml:space="preserve">=</text>
<text transform="scale(1.17 1)" x="675.24 679.92 684.59 689.27 693.94 698.62 703.29 707.97" y="300.01" font-family="'Liberation Sans', sans-serif" font-size="8.7" fill="#444" stroke="#444" stroke-width="0.18" text-anchor="middle" xml:space="preserve">0.744000</text>
<text transform="scale(1.17 1)" x="665.84 670.52 675.19 679.87 684.54 689.22 693.89 698.57 703.24 707.92" y="310.51" font-family="'Liberation Sans', sans-serif" font-size="8.7" fill="#444" stroke="#444" stroke-width="0.18" text-anchor="middle" xml:space="preserve">213.528000</text>
<text transform="scale(1.17 1)" x="665.84 670.52 675.19 679.87 684.54 689.22" y="323.01" font-family="'Liberation Sans', sans-serif" font-size="8.7" fill="#444" stroke="#444" stroke-width="0.18" text-anchor="middle" xml:space="preserve">213.52</text>
<text x="742.0 757.8" y="310.5" font-family="'Liberation Sans','Noto Sans CJK JP',sans-serif" font-size="7.3" font-weight="bold" fill="#2c2c2c">合計</text>
<text x="742.2 750.05 757.9" y="322.7" font-family="'Liberation Sans','Noto Sans CJK JP',sans-serif" font-size="7.7" font-weight="bold" fill="#2c2c2c">床面積</text>
<text x="836.6" y="322.90000000000003" font-family="'Liberation Mono', monospace" font-size="8.8" font-weight="bold" fill="#2c2c2c" text-anchor="start" textLength="5.00" lengthAdjust="spacingAndGlyphs" xml:space="preserve">m</text>
<text x="841.1999999999999" y="320.8" font-family="'Liberation Mono', monospace" font-size="6.4" font-weight="bold" fill="#2c2c2c" text-anchor="start" textLength="2.80" lengthAdjust="spacingAndGlyphs" xml:space="preserve">2</text>
<text x="688.7 708.9 731.1" y="494.9" font-family="'Liberation Serif','Noto Serif CJK SC','Noto Sans CJK JP',serif" font-size="10.7" font-weight="bold" fill="#303030">求積表</text>
<rect x="591.0" y="500.0" width="248.90" height="74.10" fill="none" stroke="#606060" stroke-width="0.95"/>
<text transform="scale(1.17 1)" x="521.32 525.85 530.38 534.91 539.44 543.97 548.50 553.03 557.56 562.09 566.62 571.15 575.68" y="508.04" font-family="'Liberation Sans', sans-serif" font-size="8.5" fill="#444" stroke="#444" stroke-width="0.18" text-anchor="middle" xml:space="preserve">0.500 × 3.600</text>
<text transform="scale(1.17 1)" x="651.75" y="508.04" font-family="'Liberation Sans', sans-serif" font-size="8.5" fill="#444" stroke="#444" stroke-width="0.18" text-anchor="middle" xml:space="preserve">=</text>
<text transform="scale(1.17 1)" x="664.06 668.59 673.12 677.65 682.18 686.71 691.24 695.77" y="508.04" font-family="'Liberation Sans', sans-serif" font-size="8.5" fill="#444" stroke="#444" stroke-width="0.18" text-anchor="middle" xml:space="preserve">1.800000</text>
<text transform="scale(1.17 1)" x="515.85 520.38 524.91 529.44 533.97 538.50 543.03 547.56 552.09 556.62 561.15 565.68 570.21 574.74 579.27" y="515.94" font-family="'Liberation Sans', sans-serif" font-size="8.5" fill="#444" stroke="#444" stroke-width="0.18" text-anchor="middle" xml:space="preserve">( 7.100 + 7.230</text>
<text transform="scale(1.17 1)" x="591.07 595.60 600.13 604.66 609.19 613.72 618.25 622.78 627.31 631.84 636.37" y="515.94" font-family="'Liberation Sans', sans-serif" font-size="8.5" fill="#444" stroke="#444" stroke-width="0.18" text-anchor="middle" xml:space="preserve">)× 9.300 /2</text>
<text transform="scale(1.17 1)" x="650.64 655.17 659.70 664.23 668.76 673.29 677.82 682.35 686.88 691.41 695.94" y="515.94" font-family="'Liberation Sans', sans-serif" font-size="8.5" fill="#444" stroke="#444" stroke-width="0.18" text-anchor="middle" xml:space="preserve">= 66.634500</text>
<text transform="scale(1.17 1)" x="521.32 525.85 530.38 534.91 539.44 543.97 548.50 553.03 557.56 562.09 566.62 571.15 575.68" y="523.84" font-family="'Liberation Sans', sans-serif" font-size="8.5" fill="#444" stroke="#444" stroke-width="0.18" text-anchor="middle" xml:space="preserve">6.920 × 4.700</text>
<text transform="scale(1.17 1)" x="650.64 655.17 659.70 664.23 668.76 673.29 677.82 682.35 686.88 691.41 695.94" y="523.84" font-family="'Liberation Sans', sans-serif" font-size="8.5" fill="#444" stroke="#444" stroke-width="0.18" text-anchor="middle" xml:space="preserve">= 32.524000</text>
<text transform="scale(1.17 1)" x="515.85 520.38 524.91 529.44 533.97 538.50 543.03 547.56 552.09 556.62 561.15 565.68 570.21 574.74 579.27" y="532.04" font-family="'Liberation Sans', sans-serif" font-size="8.5" fill="#444" stroke="#444" stroke-width="0.18" text-anchor="middle" xml:space="preserve">( 7.325 + 7.409</text>
<text transform="scale(1.17 1)" x="591.07 595.60 600.13 604.66 609.19 613.72 618.25 622.78 627.31 631.84 636.37" y="532.04" font-family="'Liberation Sans', sans-serif" font-size="8.5" fill="#444" stroke="#444" stroke-width="0.18" text-anchor="middle" xml:space="preserve">)× 5.980 /2</text>
<text transform="scale(1.17 1)" x="650.64 655.17 659.70 664.23 668.76 673.29 677.82 682.35 686.88 691.41 695.94" y="532.04" font-family="'Liberation Sans', sans-serif" font-size="8.5" fill="#444" stroke="#444" stroke-width="0.18" text-anchor="middle" xml:space="preserve">= 44.054660</text>
<text transform="scale(1.17 1)" x="515.85 520.38 524.91 529.44 533.97 538.50 543.03 547.56 552.09 556.62 561.15 565.68 570.21 574.74 579.27" y="539.94" font-family="'Liberation Sans', sans-serif" font-size="8.5" fill="#444" stroke="#444" stroke-width="0.18" text-anchor="middle" xml:space="preserve">( 2.513 + 2.600</text>
<text transform="scale(1.17 1)" x="591.07 595.60 600.13 604.66 609.19 613.72 618.25 622.78 627.31 631.84 636.37" y="539.94" font-family="'Liberation Sans', sans-serif" font-size="8.5" fill="#444" stroke="#444" stroke-width="0.18" text-anchor="middle" xml:space="preserve">)× 6.250 /2</text>
<text transform="scale(1.17 1)" x="650.64 655.17 659.70 664.23 668.76 673.29 677.82 682.35 686.88 691.41 695.94" y="539.94" font-family="'Liberation Sans', sans-serif" font-size="8.5" fill="#444" stroke="#444" stroke-width="0.18" text-anchor="middle" xml:space="preserve">= 15.978125</text>
<text transform="scale(1.17 1)" x="521.32 525.85 530.38 534.91 539.44 543.97 548.50 553.03 557.56 562.09 566.62 571.15 575.68" y="548.24" font-family="'Liberation Sans', sans-serif" font-size="8.5" fill="#444" stroke="#444" stroke-width="0.18" text-anchor="middle" xml:space="preserve">6.250 × 3.500</text>
<text transform="scale(1.17 1)" x="650.64 655.17 659.70 664.23 668.76 673.29 677.82 682.35 686.88 691.41 695.94" y="548.24" font-family="'Liberation Sans', sans-serif" font-size="8.5" fill="#444" stroke="#444" stroke-width="0.18" text-anchor="middle" xml:space="preserve">= 21.875000</text>
<text transform="scale(1.17 1)" x="655.34 659.87 664.40 668.93 673.46 677.99 682.52 687.05 691.58 696.11" y="558.74" font-family="'Liberation Sans', sans-serif" font-size="8.5" fill="#444" stroke="#444" stroke-width="0.18" text-anchor="middle" xml:space="preserve">182.866285</text>
<text transform="scale(1.17 1)" x="655.34 659.87 664.40 668.93 673.46 677.99" y="571.34" font-family="'Liberation Sans', sans-serif" font-size="8.5" fill="#444" stroke="#444" stroke-width="0.18" text-anchor="middle" xml:space="preserve">182.86</text>
<text x="739.3 755.3" y="558.4" font-family="'Liberation Sans','Noto Sans CJK JP',sans-serif" font-size="7.3" font-weight="bold" fill="#2c2c2c">合計</text>
<text x="739.4 747.35 755.3" y="571.2" font-family="'Liberation Sans','Noto Sans CJK JP',sans-serif" font-size="7.7" font-weight="bold" fill="#2c2c2c">床面積</text>
<text x="823.6" y="571.3" font-family="'Liberation Mono', monospace" font-size="8.8" font-weight="bold" fill="#2c2c2c" text-anchor="start" textLength="5.00" lengthAdjust="spacingAndGlyphs" xml:space="preserve">m</text>
<text x="828.1999999999999" y="569.2" font-family="'Liberation Mono', monospace" font-size="6.4" font-weight="bold" fill="#2c2c2c" text-anchor="start" textLength="2.80" lengthAdjust="spacingAndGlyphs" xml:space="preserve">2</text>
<text x="151.0 158.92 166.84 174.76 182.68 190.6 198.52 206.44 214.36" y="654.7" font-family="'Liberation Sans','Noto Sans CJK JP',sans-serif" font-size="8" font-weight="bold" fill="#2c2c2c">八王子市元本郷町２</text>
<text x="237.4 245.1 252.8 260.5 268.2 275.9 283.6" y="654.7" font-family="'Liberation Sans','Noto Sans CJK JP',sans-serif" font-size="8" font-weight="bold" fill="#2c2c2c">丁目１６番５号</text>
<text x="144.6 152.0" y="674.0" font-family="'Liberation Sans','Noto Sans CJK JP',sans-serif" font-size="7" fill="#444" stroke="#444" stroke-width="0.15">土地</text>
<text x="144.6 152.0" y="680.8" font-family="'Liberation Sans','Noto Sans CJK JP',sans-serif" font-size="7" fill="#444" stroke="#444" stroke-width="0.15">家屋</text>
<text x="160.8 168.4 176.0" y="677.5" font-family="'Liberation Sans','Noto Sans CJK JP',sans-serif" font-size="7.4" fill="#444" stroke="#444" stroke-width="0.15">調査士</text>
<text x="276.8 283.8 290.8" y="683.7" font-family="'Liberation Serif','Noto Serif CJK SC','Noto Sans CJK JP',serif" font-size="7.4" fill="#555" stroke="#555" stroke-width="0.12">（平成</text>
<text x="314.4" y="683.7" font-family="'Liberation Serif','Noto Serif CJK SC','Noto Sans CJK JP',serif" font-size="6.9" fill="#777">年</text>
<text x="337.0" y="683.7" font-family="'Liberation Serif','Noto Serif CJK SC','Noto Sans CJK JP',serif" font-size="6.9" fill="#777">月</text>
<text x="356.0 363.0 370.0 377.0" y="683.7" font-family="'Liberation Serif','Noto Serif CJK SC','Noto Sans CJK JP',serif" font-size="7.4" fill="#555" stroke="#555" stroke-width="0.12">日作製）</text>
<g aria-label="印">
<rect x="296.9" y="636.2" width="46.6" height="46.0" rx="3.6" ry="3.6" fill="none" stroke="#333" stroke-width="1.9"/>
</g>
<g font-family="'Liberation Sans','Noto Sans CJK JP',sans-serif" font-size="11" font-weight="bold" fill="none" stroke="#666" stroke-width="0.55">
<text transform="translate(298.6 637.2) scale(1.264 1)" x="0" y="9.7">林</text>
<text transform="translate(298.6 648.4) scale(1.264 1)" x="0" y="9.7">源</text>
<text transform="translate(298.6 659.6) scale(1.264 1)" x="0" y="9.7">治</text>
<text transform="translate(298.6 670.8) scale(1.264 1)" x="0" y="9.7">印</text>
<text transform="translate(313.2 637.2) scale(1.264 1)" x="0" y="9.7">調</text>
<text transform="translate(313.2 648.4) scale(1.264 1)" x="0" y="9.7">査</text>
<text transform="translate(313.2 659.6) scale(1.264 1)" x="0" y="9.7">士</text>
<text transform="translate(313.2 670.8) scale(1.264 1)" x="0" y="9.7">小</text>
<text transform="translate(327.8 637.2) scale(1.264 1)" x="0" y="9.7">土</text>
<text transform="translate(327.8 648.4) scale(1.264 1)" x="0" y="9.7">地</text>
<text transform="translate(327.8 659.6) scale(1.264 1)" x="0" y="9.7">家</text>
<text transform="translate(327.8 670.8) scale(1.264 1)" x="0" y="9.7">屋</text>
</g>
<g fill="none" stroke="#1c1c1c" stroke-width="1.55" stroke-linecap="round" stroke-linejoin="round">
<path d="M301 677.4L307.6 676.6L303.8 680.6L314.6 680.2"/>
<path d="M331.4 672.6C327 675.6 324.4 679.6 325.2 682.2C327.4 684 329.8 681.8 328.6 679.6"/>
<path d="M343.4 678.6C345.4 676.4 348.4 677.4 346.6 680.4L343.6 683.4L350.4 682.4"/>
<path d="M356.4 668.8C352.6 672.6 349.2 676.6 348 679.6L355.6 678.4M353 673.6L351.8 685"/>
</g>
<text x="424.0" y="665.8" font-family="'Liberation Serif', serif" font-size="10.6" font-weight="bold" fill="#2a2a2a" text-anchor="start" xml:space="preserve">1</text>
<path d="M420.8 675.8L449.6 657.9" fill="none" stroke="#5a5a5a" stroke-width="1.0" stroke-linecap="round"/>
<g fill="none" stroke="#1c1c1c" stroke-width="1.35" stroke-linecap="round" stroke-linejoin="round">
<path d="M436.4 673.2C438.4 672.2 439.6 673.6 438.0 675.2C436.6 676.4 435.0 676.8 433.6 676.6C435.4 676.4 436.8 676.9 437.8 677.3"/>
<path d="M451.4 664.4C448.6 669.0 445.6 673.6 444.2 676.2C443.4 678.0 442.6 678.6 442.4 677.6M444.6 672.6C446.4 672.2 447.8 672.5 448.8 673.0"/>
<ellipse cx="451.0" cy="675.2" rx="2.2" ry="1.9"/>
</g>
<text x="878.8" y="664.6" font-family="'Liberation Serif', serif" font-size="10.4" font-weight="bold" fill="#2a2a2a" text-anchor="start" xml:space="preserve">1</text>
<path d="M875.2 675.3L901.9 656.9" fill="none" stroke="#5a5a5a" stroke-width="1.0" stroke-linecap="round"/>
<g fill="none" stroke="#1c1c1c" stroke-width="1.35" stroke-linecap="round" stroke-linejoin="round">
<path d="M893.4 670.8C895.6 669.8 897.4 671.0 896.2 672.6C894.8 674.0 892.6 674.8 890.4 674.6C892.4 674.6 893.6 675.2 894.4 675.8"/>
<path d="M907.3 663.0C904.6 666.8 901.2 671.2 899.4 674.4C899.0 676.0 899.6 677.2 900.4 677.7M902.2 670.2C904.0 669.8 905.6 669.4 907.0 669.0"/>
<path d="M907.0 669.0C910.0 669.6 910.6 673.4 908.6 675.4C906.8 676.4 905.6 674.8 906.4 672.6"/>
</g>
<g font-family="'Liberation Serif','Noto Serif CJK SC','Noto Sans CJK JP',serif" fill="#333">
<text transform="translate(637.0 651.0) skewX(-14)" x="0" y="24.6" font-size="28">栗</text>
<text transform="translate(672.6 653.2) skewX(-14)" x="0" y="20.2" font-size="23">原</text>
<text transform="translate(690.0 655.6)" x="0" y="17.6" font-size="20">、</text>
<text transform="translate(733.6 650.6) skewX(-14) scale(1.1 1)" x="0" y="22.9" font-size="26">勉</text>
</g>
<g aria-label="印" transform="rotate(12 796.8 665.4)">
<circle cx="796.8" cy="665.4" r="19.3" fill="none" stroke="#8c8c8c" stroke-width="0.8" stroke-dasharray="11 3 17 2 7 5 13 4"/>
<g font-family="'Liberation Sans','Noto Sans CJK JP',sans-serif" font-weight="bold" fill="#383838">
<text x="794.6" y="661.6" font-size="15">栗</text>
<text x="795.0" y="677.0" font-size="15.4">原</text>
<text x="780.2" y="663.3" font-size="14">勉</text>
<text x="781.0" y="678.7" font-size="14.4">印</text>
</g>
</g>
<text x="652.4 662.23 672.06 681.89 691.72 701.55 711.38 721.21 731.04 740.87 750.7 760.53 770.36 780.19" y="699.3" font-family="'Liberation Sans','Noto Sans CJK JP',sans-serif" font-size="7.5" fill="#4a4a4a">（東京土地家屋調査士会用紙）</text>
<text x="861.2" y="624.4" font-family="'Liberation Serif', serif" font-size="19.8" font-weight="bold" fill="#2e2e2e" text-anchor="start" textLength="60.00" lengthAdjust="spacingAndGlyphs" xml:space="preserve">001021</text>
<g aria-label="平成参年六月弐七日" fill="#303030" font-family="'Liberation Sans','Noto Sans CJK JP',sans-serif" font-weight="bold">
<text transform="translate(943.0 488.2) scale(1.079 1)" x="0" y="11.1" font-size="12.6">平</text>
<text transform="translate(943.0 508.6) scale(1.117 1)" x="0" y="10.6" font-size="12">成</text>
<text transform="translate(943.2 523.4) scale(1.118 1)" x="0" y="9.0" font-size="10.2">参</text>
<text transform="translate(943.2 535.0) scale(1.036 1)" x="0" y="9.7" font-size="11">年</text>
<text transform="translate(943.2 550.6) scale(1.056 1)" x="0" y="9.5" font-size="10.8">六</text>
<text transform="translate(943.8 562.2) scale(0.931 1)" x="0" y="10.2" font-size="11.6">月</text>
<text transform="translate(941.4 577.2) scale(1.222 1)" x="0" y="9.5" font-size="10.8">弐</text>
<text transform="translate(942.2 590.8) scale(1.056 1)" x="0" y="9.5" font-size="10.8">七</text>
<text transform="translate(942.6 602.6) scale(0.962 1)" x="0" y="9.3" font-size="10.6">日</text>
</g>
<g fill="none" stroke="#262626" stroke-linecap="round" stroke-linejoin="round">
<path d="M744.2 50.8C760 49.8 775 49.4 790 49.0C805 48.6 818 48.2 830 48.4C840 48.8 846 50.2 852 49.8C860 49.4 866 49.2 871.4 48.8" stroke-width="1.35"/>
<path d="M894.8 41.0C895.6 45.0 896.8 50.0 897.8 53.8" stroke-width="1.15"/>
<path d="M915.2 38.2L900.0 66.2" stroke-width="1.15"/>
<path d="M908.0 55.8C911.0 54.6 914.0 54.2 916.4 54.4C914.8 56.8 913.2 59.2 911.8 61.0C915.4 61.4 916.2 64.4 913.8 67.2C911.6 69.6 908.4 70.0 906.2 67.6" stroke-width="1.15"/>
<path d="M659.0 64.6C659.8 64.4 660.2 65.4 659.6 65.8C658.8 66.2 658.4 65.2 659.0 64.6M659.8 66.0C660.2 68.4 660.0 70.6 659.4 72.6" stroke-width="1.3"/>
<path d="M668.6 62.4C670.4 61.0 672.4 60.6 674.0 60.8C673.0 62.8 671.8 64.6 670.4 66.0C673.4 66.2 674.4 68.6 672.4 70.4C670.6 72.2 668.0 72.6 666.0 70.8" stroke-width="1.2"/>
</g>
<path d="M64.4 488.6L66.6 493.2M66.2 488.2L69.0 493.6M68.6 489.6C70.2 488.2 71.4 489.4 69.8 491.2L72.6 491.0M72.0 487.8L73.4 492.2L74.2 494.6M71.0 499.2L71.6 501.0" fill="none" stroke="#c6c6c6" stroke-width="0.8" stroke-linecap="round"/>
</svg>
</body></html>
